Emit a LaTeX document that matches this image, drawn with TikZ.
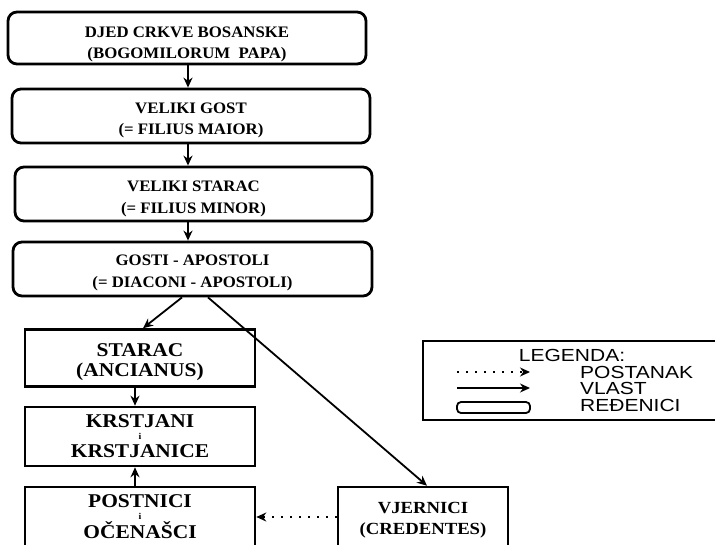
\documentclass[tikz,border=0pt]{standalone}
\usepackage{fontspec}
\setmainfont{Liberation Serif}
\newfontfamily\boxfont[FakeStretch=1.05]{Liberation Serif}
\newfontfamily\lowfont[FakeStretch=1.1]{Liberation Serif}
\newfontfamily\legfont[FakeStretch=1.2]{Liberation Sans}
\usetikzlibrary{arrows.meta}
\tikzset{
  rbox/.style={draw, line width=2.8pt, rounded corners=9pt, align=center, inner sep=0pt,
    font=\boxfont\bfseries\fontsize{16}{21.5}\selectfont},
  sbox/.style={draw, line width=2.6pt, align=center, inner sep=0pt,
    font=\lowfont\bfseries\fontsize{19.5}{20}\selectfont},
  arr/.style={line width=1.8pt, -{Stealth[length=10pt,width=9pt]}},
  darr/.style={line width=1.8pt, dash pattern=on 2pt off 7pt, -{Stealth[length=10pt,width=9pt]}},
  leg/.style={font=\legfont\fontsize{17.5}{16}\selectfont, inner sep=0pt},
}
\newcommand{\smi}{{\fontsize{9}{9}\selectfont i}}
\newcommand{\dn}[1]{\rule{0pt}{#1}}
\begin{document}
\begin{tikzpicture}[x=1pt,y=-1pt]
\useasboundingbox (0,0) rectangle (715,544);
\clip (0,0) rectangle (715,544);
\node[rbox, minimum width=358pt, minimum height=52pt] (b1) at (187,38) {\dn{23pt}DJED CRKVE BOSANSKE\\(BOGOMILORUM\ \ PAPA)};
\node[rbox, minimum width=358pt, minimum height=54pt] (b2) at (191,116) {\dn{19.6pt}VELIKI GOST\\(= FILIUS MAIOR)};
\node[rbox, minimum width=357pt, minimum height=54pt] (b3) at (193.5,194) {\dn{20.6pt}VELIKI STARAC\\(= FILIUS MINOR)};
\node[rbox, minimum width=359pt, minimum height=54pt] (b4) at (192.5,269) {\dn{18.6pt}GOSTI - APOSTOLI\\(= DIACONI - APOSTOLI)};
\node[sbox, minimum width=230pt, minimum height=57pt] (st) at (140,358) {\dn{22pt}STARAC\\(ANCIANUS)};
\node[sbox, minimum width=230pt, minimum height=59pt] (kr) at (140,436.5) {KRSTJANI\\[-8.5pt]\smi\\[-1.5pt]KRSTJANICE};
\node[sbox, minimum width=230pt, minimum height=60pt] (po) at (140,517) {POSTNICI\\[-8.5pt]\smi\\[-0.5pt]OČENAŠCI};
\node[sbox, minimum width=170pt, minimum height=60pt, font=\lowfont\bfseries\fontsize{17}{21}\selectfont] (vj) at (423,517) {\dn{17.2pt}VJERNICI\\(CREDENTES)};
\coordinate (ax) at (188,0);
\coordinate (kx) at (135,0);
\draw[arr] (b1.south -| ax) -- (b2.north -| ax);
\draw[arr] (b2.south -| ax) -- (b3.north -| ax);
\draw[arr] (b3.south -| ax) -- (b4.north -| ax);
\coordinate (s1) at (182,0);
\coordinate (s2) at (143,0);
\coordinate (s3) at (208,0);
\coordinate (s4) at (427,0);
\draw[arr] (b4.south -| s1) -- (st.north -| s2);
\draw[arr] (b4.south -| s3) -- (vj.north -| s4);
\draw[arr] (st.south -| kx) -- (kr.north -| kx);
\draw[arr] (po.north -| kx) -- (kr.south -| kx);
\draw[darr] (vj.west) -- (po.east);
% legend
\node[draw, line width=2.2pt, minimum width=310pt, minimum height=79pt, inner sep=0pt] (lg) at (578,380.5) {};
\node[leg] (lt) at (572,355) {LEGENDA:};
\coordinate (l1a) at (457,372);
\coordinate (l1b) at (530,372);
\coordinate (l2a) at (457,388);
\coordinate (l2b) at (530,388);
\draw[darr, line width=1.4pt] (l1a) -- (l1b);
\draw[arr, line width=1.4pt] (l2a) -- (l2b);
\node[draw, line width=1.8pt, rounded corners=4pt, minimum width=73pt, minimum height=11pt, inner sep=0pt] (lr) at (493.5,407.5) {};
\node[leg, anchor=west] (t1) at (580,372) {POSTANAK};
\node[leg, anchor=west] (t2) at (580,388) {VLAST};
\node[leg, anchor=west] (t3) at (580,405) {REĐENICI};
\end{tikzpicture}
\end{document}
